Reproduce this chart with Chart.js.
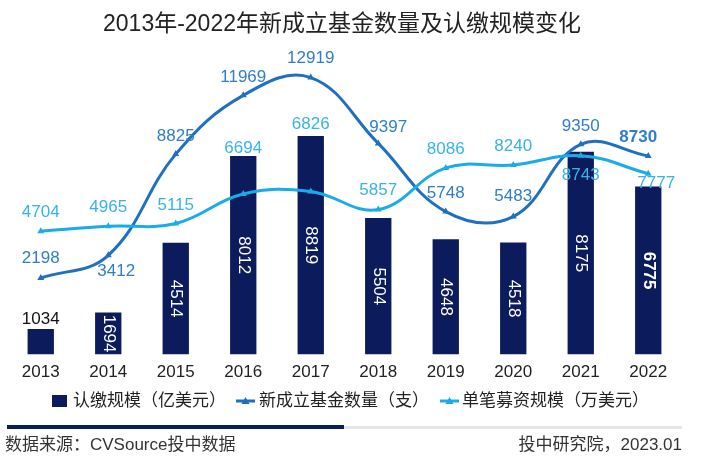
<!DOCTYPE html>
<html><head><meta charset="utf-8">
<script src="https://cdn.jsdelivr.net/npm/chart.js@4/dist/chart.umd.min.js"></script>
<style>html,body{margin:0;padding:0;background:#fff;}#wrap{width:717px;height:469px;position:relative;}</style>
</head><body><div id="wrap"><canvas id="c" width="717" height="469"></canvas></div>
<script>
const years = ['2013','2014','2015','2016','2017','2018','2019','2020','2021','2022'];
const subscribedScale = [1034,1694,4514,8012,8819,5504,4648,4518,8175,6775];
const newFunds = [2198,3412,8825,11969,12919,9397,5748,5483,9350,8730];
const avgFundSize = [4704,4965,5115,6694,6826,5857,8086,8240,8743,7777];
const titleText = '2013年-2022年新成立基金数量及认缴规模变化';
const seriesNames = ['认缴规模（亿美元）','新成立基金数量（支）','单笔募资规模（万美元）'];
const sourceText = '数据来源：CVSource投中数据';
const creditText = '投中研究院，2023.01';

const FONT = '"Liberation Sans","Noto Sans CJK SC",sans-serif';
const NAVY = '#0c1b5c', BLUE = '#1f6fc2', CYAN = '#1aace8';
const BLUE_T = '#2f7dcf', CYAN_T = '#37b3ea';

// label offsets (layout only)
const fundOff = [[0,-20],[8,16],[0,-18],[0,-18],[0,-19],[10,-16],[0,-18],[0,-20],[0,-18],[-10,-19]];
const sizeOff = [[0,-19],[0,-19],[0,-18],[0,-46],[0,-67],[0,-19],[0,-19],[0,-19],[0,20],[8,10]];

const labelPlugin = {
  id: 'labels',
  afterDatasetsDraw(chart) {
    const ctx = chart.ctx;
    ctx.save();
    ctx.textAlign = 'center'; ctx.textBaseline = 'middle';
    const mb = chart.getDatasetMeta(0);
    mb.data.forEach((el, i) => {
      const v = subscribedScale[i];
      const bold = i === 9;
      ctx.font = (bold ? 'bold ' : '') + '17px ' + FONT;
      if (i === 0) {
        ctx.fillStyle = '#111';
        ctx.fillText(String(v), el.x, el.y - 10);
      } else {
        ctx.fillStyle = '#ffffff';
        ctx.save();
        ctx.translate(el.x, (el.y + el.base) / 2);
        ctx.rotate(Math.PI / 2);
        ctx.fillText(String(v), 0, 0);
        ctx.restore();
      }
    });
    const m1 = chart.getDatasetMeta(1);
    m1.data.forEach((el, i) => {
      ctx.font = (i === 9 ? 'bold ' : '') + '17px ' + FONT;
      ctx.fillStyle = BLUE_T;
      ctx.fillText(String(newFunds[i]), el.x + fundOff[i][0], el.y + fundOff[i][1]);
    });
    const m2 = chart.getDatasetMeta(2);
    m2.data.forEach((el, i) => {
      ctx.font = '17px ' + FONT;
      ctx.fillStyle = CYAN_T;
      ctx.fillText(String(avgFundSize[i]), el.x + sizeOff[i][0], el.y + sizeOff[i][1]);
    });
    ctx.restore();
  },
  afterDraw(chart) {
    const ctx = chart.ctx;
    ctx.save();
    ctx.fillStyle = '#222';
    ctx.font = '23px ' + FONT;
    ctx.textAlign = 'center'; ctx.textBaseline = 'middle';
    ctx.fillText(titleText, 342, 25);
    ctx.font = '17px ' + FONT;
    ctx.textAlign = 'left';
    const ly = 401;
    ctx.fillStyle = NAVY;
    ctx.fillRect(52, ly - 6, 15, 12);
    ctx.fillStyle = '#222';
    ctx.fillText(seriesNames[0], 73, ly);
    const drawLineSw = (x, col) => {
      ctx.strokeStyle = col; ctx.lineWidth = 3;
      ctx.beginPath(); ctx.moveTo(x, ly); ctx.lineTo(x + 19, ly); ctx.stroke();
      ctx.fillStyle = col;
      ctx.beginPath(); ctx.moveTo(x + 9.5, ly - 4); ctx.lineTo(x + 13.5, ly + 3); ctx.lineTo(x + 5.5, ly + 3); ctx.closePath(); ctx.fill();
    };
    drawLineSw(236, BLUE);
    ctx.fillStyle = '#222';
    ctx.fillText(seriesNames[1], 259, ly);
    drawLineSw(440, CYAN);
    ctx.fillStyle = '#222';
    ctx.fillText(seriesNames[2], 462, ly);
    ctx.fillStyle = '#e6e6e6';
    ctx.fillRect(343, 426, 339, 3);
    ctx.fillStyle = NAVY;
    ctx.fillRect(7, 425, 337, 4);
    ctx.fillStyle = '#333';
    ctx.font = '17px ' + FONT;
    ctx.textAlign = 'left';
    ctx.fillText(sourceText, 5, 445);
    ctx.textAlign = 'right';
    ctx.fillText(creditText, 682, 445);
    ctx.restore();
  }
};

new Chart(document.getElementById('c'), {
  data: {
    labels: years,
    datasets: [
      { type: 'bar', label: seriesNames[0], data: subscribedScale, backgroundColor: NAVY,
        yAxisID: 'y', order: 3, categoryPercentage: 1, barPercentage: 0.39 },
      { type: 'line', label: seriesNames[1], data: newFunds, borderColor: BLUE, backgroundColor: BLUE,
        borderWidth: 3, tension: 0.4, pointStyle: 'triangle', pointRadius: 4, pointBorderWidth: 0,
        yAxisID: 'y1', order: 2 },
      { type: 'line', label: seriesNames[2], data: avgFundSize, borderColor: CYAN, backgroundColor: CYAN,
        borderWidth: 3, tension: 0.4, pointStyle: 'triangle', pointRadius: 4, pointBorderWidth: 0,
        yAxisID: 'y1', order: 1 }
    ]
  },
  options: {
    responsive: false, animation: false, devicePixelRatio: 1,
    layout: { padding: { left: 7, right: 35, top: 60, bottom: 78 } },
    plugins: { legend: { display: false }, title: { display: false }, tooltip: { enabled: false } },
    scales: {
      x: { grid: { display: false, drawTicks: false }, border: { display: false },
           ticks: { padding: 8, color: '#222', font: { size: 17, family: FONT } } },
      y: { display: false, min: 0, max: 11879 },
      y1: { display: false, min: -1903, max: 13861 }
    }
  },
  plugins: [labelPlugin]
});
</script></body></html>
